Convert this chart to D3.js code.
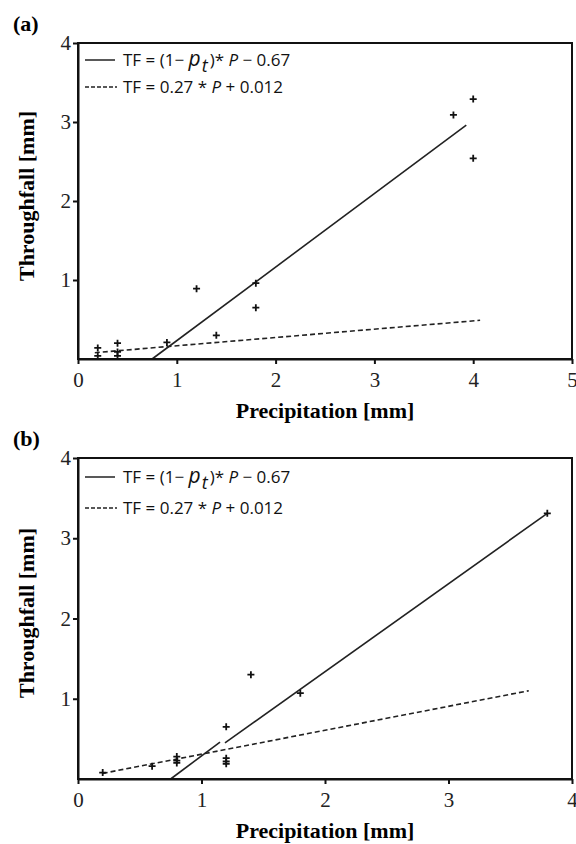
<!DOCTYPE html>
<html>
<head>
<meta charset="utf-8">
<script src="https://cdn.jsdelivr.net/npm/d3@7"></script>
<style>
  body { margin: 0; background: #fff; }
  svg { display: block; }
</style>
</head>
<body>
<svg id="chart" width="576" height="844"></svg>
<script>
// 数据
var yTicks = [1, 2, 3, 4];
var xTicksA = [0, 1, 2, 3, 4, 5];
var xTicksB = [0, 1, 2, 3, 4];

// (a) 散点
var precipA = [0.2, 0.2, 0.4, 0.4, 0.4, 0.9, 1.2, 1.4, 1.8, 1.8, 3.8, 4.0, 4.0];
var tfA     = [0.14, 0.04, 0.2, 0.09, 0.04, 0.21, 0.89, 0.3, 0.96, 0.65, 3.09, 3.29, 2.54];
// (a) 拟合线
var solidA = [[0.75, 0], [3.93, 2.96]];
var dashA  = [[0.17, 0.08], [4.07, 0.49]];

// (b) 散点
var precipB = [0.2, 0.6, 0.8, 0.8, 0.8, 1.2, 1.2, 1.2, 1.2, 1.4, 1.8, 3.8];
var tfB     = [0.08, 0.16, 0.28, 0.23, 0.2, 0.65, 0.26, 0.22, 0.19, 1.3, 1.07, 3.31];
// (b) 拟合线 (实线分两段)
var solidB1 = [[0.75, 0], [1.15, 0.46]];
var solidB2 = [[1.19, 0.45], [3.8, 3.31]];
var dashB   = [[0.2, 0.07], [3.65, 1.1]];

var svg = d3.select("#chart");
var serif = "'Liberation Serif', 'Times New Roman', serif";
var sans = "'Open Sans', 'Noto Sans', sans-serif";

function drawPanel(p) {
  var x = d3.scaleLinear().domain([0, p.xMax]).range([78, 572]);
  var y = d3.scaleLinear().domain([0, 4]).range([p.bottom, p.top]);

  var g = svg.append("g");

  // 面板标签
  g.append("text")
    .attr("x", 13).attr("y", p.top - 12)
    .attr("font-family", serif).attr("font-weight", "bold").attr("font-size", 22)
    .text(p.label);

  // 拟合线
  var line = d3.line().x(function(d) { return x(d[0]); }).y(function(d) { return y(d[1]); });
  p.solid.forEach(function(seg) {
    g.append("path").attr("d", line(seg))
      .attr("fill", "none").attr("stroke", "#222").attr("stroke-width", 1.6);
  });
  g.append("path").attr("d", line(p.dash))
    .attr("fill", "none").attr("stroke", "#222").attr("stroke-width", 1.6)
    .attr("stroke-dasharray", "5,3");

  // 散点 "+"
  g.append("g").selectAll("path")
    .data(p.px.map(function(v, i) { return [v, p.ty[i]]; }))
    .enter().append("path")
    .attr("transform", function(d) { return "translate(" + x(d[0]) + "," + y(d[1]) + ")"; })
    .attr("d", "M-3.5,0H3.5M0,-3.5V3.5")
    .attr("stroke", "#111").attr("stroke-width", 1.8);

  // 边框
  g.append("rect")
    .attr("x", x(0)).attr("y", y(4))
    .attr("width", x(p.xMax) - x(0)).attr("height", y(0) - y(4))
    .attr("fill", "none").attr("stroke", "#111").attr("stroke-width", 2);

  // 坐标轴
  var xAxis = g.append("g")
    .attr("transform", "translate(0," + y(0) + ")")
    .call(d3.axisBottom(x).tickValues(p.xTicks).tickSize(5).tickSizeOuter(0).tickPadding(8).tickFormat(d3.format("d")));
  var yAxis = g.append("g")
    .attr("transform", "translate(" + x(0) + ",0)")
    .call(d3.axisLeft(y).tickValues(yTicks).tickSize(5).tickSizeOuter(0).tickPadding(2).tickFormat(d3.format("d")));
  [xAxis, yAxis].forEach(function(a) {
    a.select(".domain").attr("stroke", "#111").attr("stroke-width", 2);
    a.selectAll(".tick line").attr("stroke", "#111").attr("stroke-width", 2);
    a.selectAll("text").attr("font-family", serif).attr("font-size", 21).attr("fill", "#222");
  });

  // 轴标题
  g.append("text")
    .attr("x", (x(0) + x(p.xMax)) / 2).attr("y", p.bottom + 59)
    .attr("text-anchor", "middle")
    .attr("font-family", serif).attr("font-weight", "bold").attr("font-size", 22)
    .text("Precipitation [mm]");
  g.append("text")
    .attr("transform", "translate(34," + p.yMid + ") rotate(-90)")
    .attr("text-anchor", "middle")
    .attr("font-family", serif).attr("font-weight", "bold").attr("font-size", 22)
    .text("Throughfall [mm]");

  // 图例
  var lg = g.append("g").attr("font-family", sans).attr("font-size", 17).attr("fill", "#111");
  lg.append("line").attr("x1", 85).attr("x2", 115).attr("y1", p.leg1).attr("y2", p.leg1)
    .attr("stroke", "#222").attr("stroke-width", 1.5);
  lg.append("line").attr("x1", 85).attr("x2", 117).attr("y1", p.leg2).attr("y2", p.leg2)
    .attr("stroke", "#222").attr("stroke-width", 1.5).attr("stroke-dasharray", "4,2");

  var t1 = lg.append("text").attr("x", 123).attr("y", p.leg1 + 6);
  t1.append("tspan").text("TF = (1\u2212 ");
  t1.append("tspan").attr("font-style", "italic").attr("font-size", 21).text("p");
  t1.append("tspan").attr("font-style", "italic").attr("font-size", 18).attr("dx", 1).attr("dy", 6).text("t");
  t1.append("tspan").attr("dx", 2).attr("dy", -6).text(")* ");
  t1.append("tspan").attr("font-style", "italic").text("P");
  t1.append("tspan").text(" \u2212 0.67");

  var t2 = lg.append("text").attr("x", 123).attr("y", p.leg2 + 6);
  t2.append("tspan").text("TF = 0.27 * ");
  t2.append("tspan").attr("font-style", "italic").text("P");
  t2.append("tspan").text(" + 0.012");
}

drawPanel({
  label: "(a)", top: 43, bottom: 359, xMax: 5, xTicks: xTicksA, yMid: 196,
  px: precipA, ty: tfA, solid: [solidA], dash: dashA, leg1: 60, leg2: 87
});
drawPanel({
  label: "(b)", top: 458, bottom: 779, xMax: 4, xTicks: xTicksB, yMid: 613,
  px: precipB, ty: tfB, solid: [solidB1, solidB2], dash: dashB, leg1: 477, leg2: 508
});
</script>
</body>
</html>
